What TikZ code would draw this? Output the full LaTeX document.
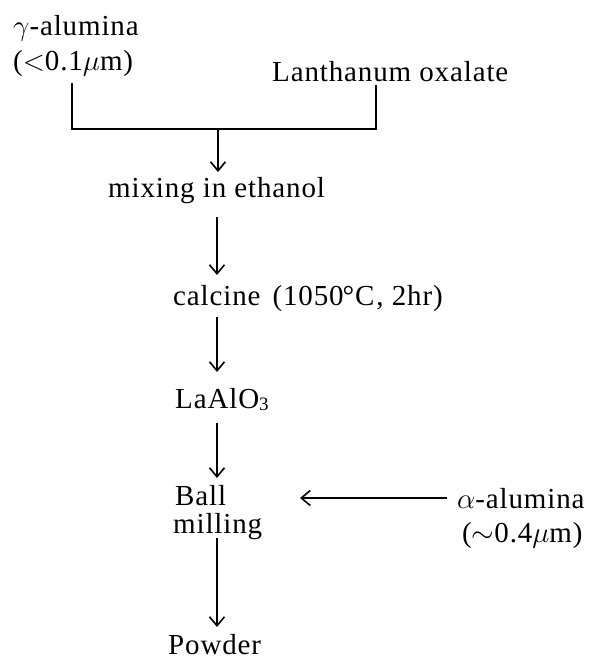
\documentclass[tikz,border=0pt]{standalone}
\usepackage{fix-cm}
\usepackage{fontspec}
\setmainfont{Liberation Serif}[LetterSpace=3]
\usetikzlibrary{arrows.meta,calc}
\begin{document}
\begin{tikzpicture}[x=1pt,y=-1pt,
  lbl/.style={anchor=base west, inner sep=0pt, font=\fontsize{29}{29}\selectfont},
  wire/.style={line width=1.6pt},
  flow/.style={wire, -{Straight Barb[length=9pt,width=15pt,line width=1.6pt]}}]
\useasboundingbox (0,0) rectangle (591,659);

% starting materials
\node[lbl] (gam) at (13,35) {$\gamma$-alumina};
\node[lbl] (gsz) at (13,70) {($<$0.1$\mu$m)};
\node[lbl] (lan) at (272,81) {Lanthanum oxalate};

% process steps
\node[lbl] (mix)  at (108,197) {mixing in ethanol};
\node[lbl] (calc) at (173,305) {calcine\hspace{12pt}(1050\kern-1pt°C\kern2pt, 2hr)};
\node[lbl] (lao)  at (175,408) {LaAlO\raisebox{-2pt}{\fontsize{19}{19}\selectfont 3}};
\node[lbl] (ball) at (175,505) {Ball};
\node[lbl] (mill) at (173,533) {milling};
\node[lbl] (pow)  at (168,654) {Powder};

% additive
\node[lbl] (alp) at (457,508) {$\alpha$-alumina};
\node[lbl] (asz) at (462,542) {($\sim$0.4$\mu$m)};

% merging the two raw materials
\coordinate (lc) at (72,129);
\coordinate (rc) at (376,129);
\coordinate (join) at (218,129);
\coordinate (spine) at (217,0);
\draw[wire] ($(gsz.base -| lc)+(0,13)$) -- (lc) -- (rc) -- ($(lan.base -| rc)+(0,4)$);

% main flow
\draw[flow] (join) -- ($(mix.base -| join)+(0,-25)$);
\draw[flow] ($(mix.base -| spine)+(0,20)$) -- ($(calc.base -| spine)+(0,-30)$);
\draw[flow] ($(calc.base -| spine)+(0,12)$) -- ($(lao.base -| spine)+(0,-36)$);
\draw[flow] ($(lao.base -| spine)+(0,15)$) -- ($(ball.base -| spine)+(0,-27)$);
\draw[flow] ($(mill.base -| spine)+(0,5)$) -- ($(pow.base -| spine)+(0,-27)$);

% alpha-alumina fed into the mill
\draw[flow] ($(alp.base west)+(-10,-10)$) -- ($(alp.base west)+(-157,-10)$);
\end{tikzpicture}
\end{document}
